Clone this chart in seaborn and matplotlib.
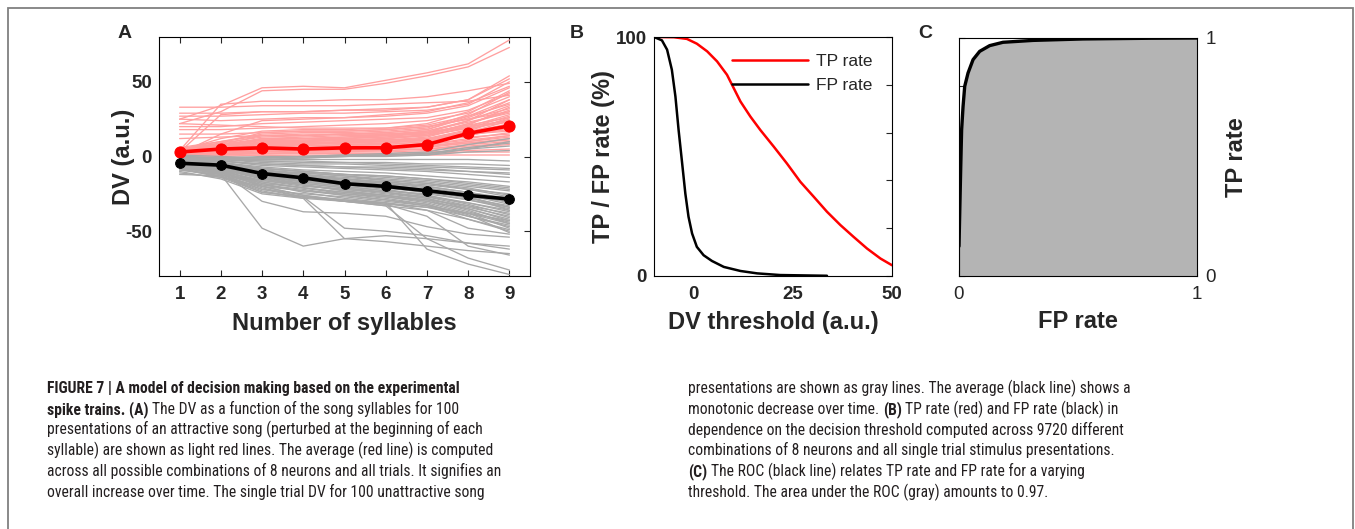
import matplotlib
matplotlib.use("Agg")
import numpy as np
import pandas as pd
import matplotlib.pyplot as plt
import seaborn as sns
from matplotlib import font_manager
from matplotlib.patches import Rectangle

# ---------------------------------------------------------------
# data
# ---------------------------------------------------------------
syllables = [1, 2, 3, 4, 5, 6, 7, 8, 9]

# single trial DV, attractive song (light red)
attractive_trials = [
    [25, 34, 46, 47, 46, 51, 56, 62, 78],
    [22, 30, 44, 45, 45, 49, 54, 60, 73],
    [33, 33, 34, 34, 34, 35, 36, 37, 41],
    [29, 29, 30, 30, 31, 31, 33, 38, 54],
    [27, 27, 28, 29, 29, 30, 31, 35, 50],
    [4, 35, 37, 37, 38, 38, 40, 44, 49],
    [25, 24, 25, 26, 26, 27, 29, 34, 46],
    [20, 20, 22, 23, 24, 25, 26, 31, 42],
    [18, 18, 19, 20, 21, 22, 24, 29, 40],
    [22, 21, 20, 19, 19, 19, 21, 27, 38],
    [3, 28, 30, 30, 31, 32, 33, 38, 52],
    [2, 15, 24, 25, 26, 28, 30, 36, 47],
    [4, 12, 17, 18, 18, 19, 22, 30, 44],
    [5, 10, 14, 14, 15, 16, 18, 26, 36],
    [3, 8, 12, 12, 12, 13, 16, 24, 34],
    [2, 6, 10, 10, 11, 12, 14, 22, 30],
    [3, 7, 11, 11, 11, 11, 13, 20, 28],
    [4, 6, 8, 9, 9, 10, 12, 18, 25],
    [2, 5, 7, 7, 8, 8, 10, 16, 22],
    [1, 4, 6, 6, 6, 7, 9, 14, 20],
    [3, 5, 7, 6, 7, 7, 8, 12, 16],
    [2, 4, 5, 5, 5, 6, 7, 10, 13],
    [1, 3, 4, 4, 4, 4, 5, 8, 10],
    [0, 2, 3, 3, 3, 3, 4, 6, 8],
    [1, 2, 2, 2, 2, 2, 3, 4, 5],
    [0, 1, 1, 1, 1, 1, 2, 3, 3],
    [-1, 0, 1, 0, 1, 1, 1, 1, 1],
    [2, 4, 9, 9, 10, 10, 11, 13, 15],
    [3, 6, 12, 13, 14, 14, 16, 21, 26],
    [4, 9, 16, 17, 17, 18, 20, 25, 32],
    [1, 3, 6, 8, 10, 12, 15, 20, 24],
    [2, 5, 8, 10, 12, 14, 17, 23, 29],
    [3, 4, 5, 5, 6, 6, 7, 9, 11],
    [0, 1, 2, 3, 3, 4, 5, 7, 9],
    [5, 8, 11, 10, 11, 12, 14, 19, 23],
    [2, 5, 9, 10, 11, 11, 12, 17, 21],
    [3, 6, 10, 11, 12, 13, 14, 19, 27],
    [1, 4, 7, 8, 9, 9, 11, 15, 18],
    [2, 3, 5, 6, 7, 8, 10, 14, 19],
    [4, 7, 12, 12, 13, 14, 15, 22, 31],
    [3, 5, 8, 8, 9, 10, 11, 16, 24],
    [1, 2, 4, 4, 5, 5, 6, 9, 12],
    [5, 9, 13, 14, 15, 15, 17, 24, 38],
    [6, 10, 15, 16, 16, 17, 19, 28, 43],
    [2, 4, 6, 7, 8, 9, 11, 17, 26],
    [0, 1, 3, 4, 5, 6, 8, 11, 14],
    [3, 7, 9, 9, 10, 11, 12, 15, 17],
    [4, 8, 14, 15, 15, 16, 18, 27, 35],
    [1, 3, 5, 5, 6, 6, 7, 10, 14],
    [2, 6, 11, 12, 13, 15, 16, 21, 33],
    [12, 13, 14, 14, 15, 15, 16, 20, 24],
    [15, 15, 16, 17, 17, 18, 20, 25, 30],
]

# single trial DV, unattractive song (gray)
unattractive_trials = [
    [-6, -12, -48, -60, -55, -53, -55, -58, -60],
    [-5, -10, -30, -37, -38, -40, -47, -52, -54],
    [-7, -12, -22, -27, -48, -50, -53, -58, -62],
    [-8, -13, -23, -28, -55, -57, -60, -63, -65],
    [-6, -11, -20, -26, -30, -31, -62, -72, -79],
    [-7, -12, -21, -27, -30, -33, -55, -68, -76],
    [-5, -10, -20, -26, -29, -32, -40, -60, -66],
    [-4, -9, -18, -24, -28, -31, -36, -48, -52],
    [-6, -10, -19, -23, -26, -29, -33, -42, -50],
    [-5, -9, -17, -21, -25, -28, -32, -40, -47],
    [-3, -7, -15, -19, -23, -26, -30, -37, -44],
    [-4, -8, -14, -18, -21, -24, -28, -34, -40],
    [-2, -6, -12, -16, -19, -22, -26, -31, -37],
    [-3, -6, -11, -14, -17, -20, -23, -28, -33],
    [-5, -7, -12, -15, -18, -21, -24, -27, -30],
    [-2, -5, -9, -12, -15, -17, -20, -24, -28],
    [-4, -6, -10, -13, -15, -17, -19, -22, -25],
    [-1, -4, -8, -10, -12, -14, -16, -19, -22],
    [-3, -5, -8, -10, -12, -13, -15, -17, -20],
    [-2, -4, -7, -9, -10, -11, -13, -15, -17],
    [-1, -3, -6, -7, -8, -9, -10, -12, -14],
    [-2, -3, -5, -6, -7, -8, -9, -10, -11],
    [0, -2, -4, -5, -5, -6, -7, -8, -9],
    [-1, -2, -3, -3, -4, -4, -5, -5, -6],
    [0, -1, -2, -2, -2, -2, -2, -2, -3],
    [1, 0, -1, -1, 0, 0, 1, 5, 10],
    [0, -1, -1, 0, 1, 2, 3, 8, 12],
    [-1, -2, -2, -1, 0, 1, 2, 5, 7],
    [-8, -14, -24, -27, -29, -31, -34, -40, -46],
    [-10, -15, -25, -28, -30, -33, -36, -42, -49],
    [-9, -13, -22, -25, -27, -30, -33, -38, -45],
    [-11, -14, -20, -23, -25, -27, -30, -35, -42],
    [-7, -11, -18, -21, -24, -26, -29, -33, -38],
    [-6, -10, -16, -20, -22, -24, -27, -31, -36],
    [-3, -8, -13, -17, -20, -23, -25, -29, -34],
    [-4, -7, -12, -14, -16, -18, -21, -25, -31],
    [-2, -5, -10, -11, -13, -16, -18, -21, -26],
    [-12, -13, -24, -27, -30, -32, -34, -38, -43],
    [-4, -7, -13, -16, -19, -21, -24, -29, -35],
    [-5, -8, -14, -17, -20, -23, -26, -32, -39],
    [-6, -9, -15, -18, -21, -24, -27, -33, -41],
    [-3, -6, -10, -12, -14, -16, -18, -22, -27],
    [-7, -10, -16, -19, -22, -25, -28, -35, -43],
    [-2, -4, -8, -10, -12, -13, -15, -18, -21],
    [-5, -8, -15, -19, -23, -26, -29, -36, -45],
    [-8, -11, -17, -21, -24, -27, -31, -38, -48],
    [-4, -6, -9, -11, -13, -15, -17, -20, -23],
    [-6, -9, -13, -15, -17, -19, -22, -26, -32],
    [-9, -12, -19, -22, -26, -29, -32, -39, -51],
    [-3, -5, -9, -13, -16, -19, -22, -27, -36],
    [-1, -3, -5, -6, -7, -7, -8, -10, -12],
    [-7, -9, -14, -16, -18, -20, -23, -27, -34],
    [-5, -7, -11, -13, -15, -18, -20, -24, -29],
    [0, -2, -3, -4, -4, -5, -6, -7, -8],
    [0, -1, -1, 0, 1, 1, 2, 6, 9],
    [-1, -1, 0, 0, 0, 1, 1, 3, 4],
]

attractive_mean = [3, 5, 5.8, 5, 5.8, 5.8, 8, 15.5, 20.5]
unattractive_mean = [-4.5, -5.8, -11.4, -14.3, -18.2, -20, -22.9, -26, -28.5]

# panel B
tp_threshold = [-10, -5, -1.7, 0.8, 3.4, 5.9, 8.4, 10.1, 11.8, 14.3, 16.8, 20.2, 23.5,
                26.9, 30.3, 33.6, 37, 40.3, 43.7, 47.1, 50]
tp_rate = [100, 99.9, 99.2, 97.2, 94, 89.8, 84.2, 78.6, 73, 66.7, 61.1, 54.1, 47.1,
           39.4, 33.1, 26.9, 21.3, 16.4, 11.5, 7.3, 4.5]
fp_threshold = [-10, -8, -6.7, -5.5, -4.6, -3.8, -2.9, -2.1, -1.3, -0.4, 0.8, 2.5, 4.6,
                7.6, 11.8, 16, 21.8, 33.6]
fp_rate = [100, 98.6, 94.7, 86.3, 75.1, 61.1, 47.1, 34.5, 24.8, 17.8, 12.2, 8.7, 6.3,
           3.8, 2.1, 1.1, 0.4, 0.1]

# panel C (ROC)
roc_fp = [0, 0, 0.003, 0.007, 0.011, 0.017, 0.024, 0.038, 0.059, 0.087, 0.129, 0.185, 0.312, 0.522, 0.803, 1]
roc_tp = [0, 0.25, 0.264, 0.446, 0.614, 0.712, 0.797, 0.853, 0.909, 0.944, 0.968, 0.982, 0.990, 0.996, 0.999, 1]

caption_left = [
    [("FIGURE 7 | A model of decision making based on the experimental", True)],
    [("spike trains. (A)", True), ("The DV as a function of the song syllables for 100", False)],
    [("presentations of an attractive song (perturbed at the beginning of each", False)],
    [("syllable) are shown as light red lines. The average (red line) is computed", False)],
    [("across all possible combinations of 8 neurons and all trials. It signifies an", False)],
    [("overall increase over time. The single trial DV for 100 unattractive song", False)],
]
caption_right = [
    [("presentations are shown as gray lines. The average (black line) shows a", False)],
    [("monotonic decrease over time.", False), ("(B)", True), ("TP rate (red) and FP rate (black) in", False)],
    [("dependence on the decision threshold computed across 9720 different", False)],
    [("combinations of 8 neurons and all single trial stimulus presentations.", False)],
    [("(C)", True), ("The ROC (black line) relates TP rate and FP rate for a varying", False)],
    [("threshold. The area under the ROC (gray) amounts to 0.97.", False)],
]

# ---------------------------------------------------------------
# style
# ---------------------------------------------------------------
sns.set_style("ticks")
plt.rcParams["font.family"] = ["Liberation Sans", "DejaVu Sans"]
plt.rcParams["axes.edgecolor"] = "black"
plt.rcParams["axes.linewidth"] = 0.8
plt.rcParams["axes.unicode_minus"] = False

W, H, DPI = 1355, 529, 100
fig = plt.figure(figsize=(W / DPI, H / DPI), dpi=DPI)
fig.patch.set_facecolor("white")


def px_axes(left, top, right, bottom):
    return fig.add_axes([left / W, 1 - bottom / H, (right - left) / W, (bottom - top) / H])


LABEL_KW = dict(fontsize=17, fontweight="bold")
TICK_SIZE = 13.5

# ---------------------------------------------------------------
# A
# ---------------------------------------------------------------
axA = px_axes(159, 37, 530, 276)

def long_form(trials):
    rows = []
    for i, tr in enumerate(trials):
        for s, v in zip(syllables, tr):
            rows.append({"trial": i, "syllable": s, "dv": v})
    return pd.DataFrame(rows)

sns.lineplot(data=long_form(attractive_trials), x="syllable", y="dv", units="trial",
             estimator=None, color="#ffa0a0", lw=0.95, ax=axA, legend=False)
sns.lineplot(data=long_form(unattractive_trials), x="syllable", y="dv", units="trial",
             estimator=None, color="#a8a8a8", lw=0.95, ax=axA, legend=False)
sns.lineplot(x=syllables, y=attractive_mean, color="#ff0000", lw=2.6, marker="o",
             markersize=8, markeredgecolor="#ff0000", ax=axA)
sns.lineplot(x=syllables, y=unattractive_mean, color="black", lw=2.6, marker="o",
             markersize=7, markeredgecolor="black", ax=axA)

axA.set_xlim(0.5, 9.5)
axA.set_ylim(-80, 80)
axA.set_xticks(syllables)
axA.set_yticks([-50, 0, 50])
axA.tick_params(axis="x", direction="in", top=True, bottom=True, length=4, pad=7, labelsize=TICK_SIZE)
axA.tick_params(axis="y", direction="in", left=False, right=True, length=4, pad=5, labelsize=TICK_SIZE)
axA.set_xlabel("Number of syllables", **LABEL_KW)
axA.set_ylabel("DV (a.u.)", **LABEL_KW)
axA.xaxis.set_label_coords(0.5, -0.197)
axA.xaxis.label.set_va("center")
axA.yaxis.set_label_coords(-0.097, 0.5)
axA.yaxis.label.set_va("center")

# ---------------------------------------------------------------
# B
# ---------------------------------------------------------------
axB = px_axes(654, 37, 892, 276)
sns.lineplot(x=tp_threshold, y=tp_rate, color="#ff0000", lw=1.8, ax=axB, label="TP rate", sort=False)
sns.lineplot(x=fp_threshold, y=fp_rate, color="black", lw=1.8, ax=axB, label="FP rate", sort=False)
axB.set_xlim(-10, 50)
axB.set_ylim(0, 100)
axB.set_xticks([0, 25, 50])
axB.set_yticks([0, 20, 40, 60, 80, 100])
axB.set_yticklabels(["0", "", "", "", "", "100"])
axB.tick_params(axis="x", direction="in", bottom=False, length=4, pad=7, labelsize=TICK_SIZE)
axB.tick_params(axis="y", direction="in", left=False, right=True, length=4, pad=5, labelsize=TICK_SIZE)
axB.set_xlabel("DV threshold (a.u.)", **LABEL_KW)
axB.set_ylabel("TP / FP rate (%)", **LABEL_KW)
axB.xaxis.set_label_coords(0.5, -0.193)
axB.xaxis.label.set_va("center")
axB.yaxis.set_label_coords(-0.214, 0.5)
axB.yaxis.label.set_va("center")
axB.legend(frameon=False, loc="upper left", bbox_to_anchor=(0.328, 0.93), borderpad=0,
           borderaxespad=0, handlelength=4.4, handletextpad=0.45, labelspacing=0.5,
           prop={"size": 12.5})

for ax in (axA, axB):
    for lbl in ax.get_xticklabels() + ax.get_yticklabels():
        lbl.set_fontweight("bold")

# ---------------------------------------------------------------
# C
# ---------------------------------------------------------------
axC = px_axes(959, 38, 1197, 276)
axC.fill_between(roc_fp, roc_tp, 0, color="#b4b4b4", lw=0)
sns.lineplot(x=roc_fp, y=roc_tp, color="black", lw=2.4, ax=axC, sort=False)
axC.set_xlim(0, 1)
axC.set_ylim(0, 1)
ticks01 = [0, 0.2, 0.4, 0.6, 0.8, 1]
axC.set_xticks(ticks01)
axC.set_xticklabels(["0", "", "", "", "", "1"])
axC.set_yticks(ticks01)
axC.set_yticklabels(["0", "", "", "", "", "1"])
axC.tick_params(axis="x", direction="in", length=4, pad=7, labelsize=TICK_SIZE)
axC.tick_params(axis="y", direction="in", left=True, right=False, labelleft=False,
                labelright=True, length=4, pad=6, labelsize=TICK_SIZE)
axC.set_xlabel("FP rate", **LABEL_KW)
axC.set_ylabel("TP rate", **LABEL_KW)
axC.yaxis.set_label_position("right")
axC.xaxis.set_label_coords(0.5, -0.193)
axC.xaxis.label.set_va("center")
axC.yaxis.set_label_coords(1.168, 0.5)
axC.yaxis.label.set_va("center")
axC.yaxis.label.set_rotation(90)

# panel letters
for letter, x in (("A", 125), ("B", 577), ("C", 925)):
    fig.text(x / W, 1 - 33 / H, letter, fontsize=14, fontweight="bold", ha="center", va="center")

# outer frame
fig.add_artist(Rectangle((8 / W, -0.05), (1353 - 8) / W, 1.05 - 8 / H, transform=fig.transFigure,
                         fill=False, edgecolor="#808080", lw=1.3, clip_on=False))

# ---------------------------------------------------------------
# caption
# ---------------------------------------------------------------
available = {f.name for f in font_manager.fontManager.ttflist}
cap_family = next(f for f in ["Liberation Sans Narrow", "Roboto Condensed", "Liberation Sans", "DejaVu Sans"]
                  if f in available)
renderer = fig.canvas.get_renderer()

def text_width(s, size, bold=False):
    t = fig.text(0, 0, s, fontsize=size, family=cap_family, fontweight="bold" if bold else "normal")
    w = t.get_window_extent(renderer).width
    t.remove()
    return w

cap_size = 11.6
ref = "presentations of an attractive song (perturbed at the beginning of each"
cap_size = cap_size * 435 / text_width(ref, cap_size)
space_w = text_width("a a", cap_size) - text_width("aa", cap_size)

baselines = [393.3, 414, 434.6, 455.3, 476, 496.7]

def draw_column(x0, lines):
    for y, segs in zip(baselines, lines):
        x = x0
        for s, bold in segs:
            fig.text(x / W, 1 - y / H, s, fontsize=cap_size, family=cap_family,
                     fontweight="bold" if bold else "normal", color="#231f20",
                     ha="left", va="baseline")
            x += text_width(s, cap_size, bold) + space_w

draw_column(47, caption_left)
draw_column(688, caption_right)

fig.savefig("out.png", dpi=DPI, facecolor="white")
